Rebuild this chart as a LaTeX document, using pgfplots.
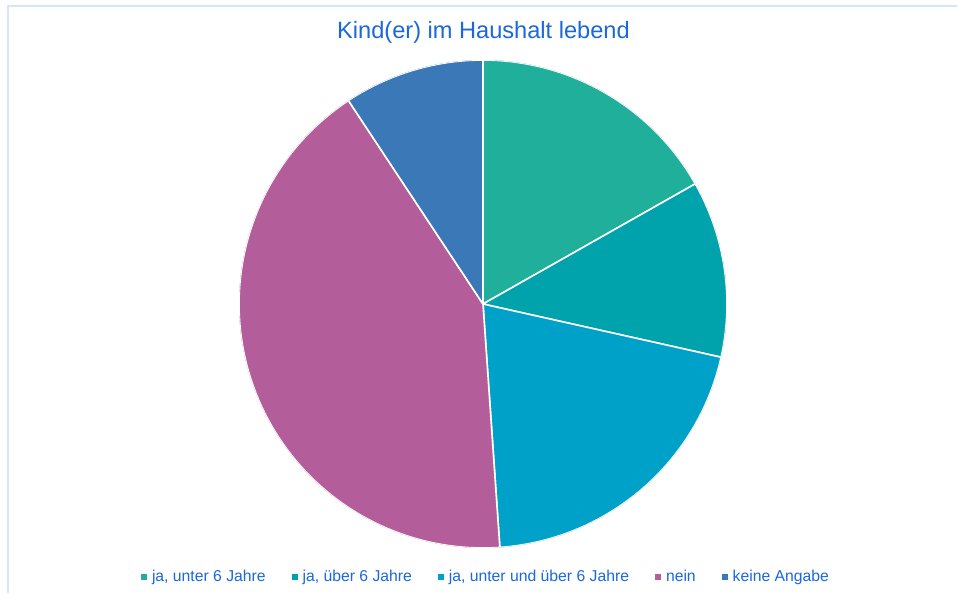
\documentclass[border=0pt]{standalone}
\usepackage{pgfplots}
\pgfplotsset{compat=1.18}
\usepgfplotslibrary{polar}
\usepackage{fontspec}
\setmainfont{Liberation Sans}
\definecolor{cA}{HTML}{1FAF9B}
\definecolor{cB}{HTML}{00A3AC}
\definecolor{cC}{HTML}{00A1C9}
\definecolor{cD}{HTML}{B35E9B}
\definecolor{cE}{HTML}{3A78B7}
\definecolor{tblue}{HTML}{1A68DC}
\definecolor{frame}{HTML}{D6E6FA}
\begin{document}
\begin{tikzpicture}[x=0.75pt,y=0.75pt]
\fill[white] (0,0) rectangle (958,593);
\draw[frame, line width=1.5pt] (8,0) -- (8,587) -- (957,587);
\node[tblue, font=\fontsize{17.7}{21}\selectfont] at (483.5,561) {Kind(er) im Haushalt lebend};
% slice percentages: 16.8, 11.7, 20.4, 41.8, 9.3 (angles = 3.6 * percent, clockwise from top)
\begin{polaraxis}[
  at={(483pt*0.75,289pt*0.75)}, anchor=center,
  scale only axis, width=366pt, height=366pt,
  xmin=0, xmax=360, ymin=0, ymax=1,
  hide axis,
  legend columns=5,
  legend style={draw=none, fill=none, at={(0.5,-0.0)}, anchor=north,
    yshift=-14.5pt, xshift=2.5pt, font=\fontsize{11.8}{14}\selectfont, text=tblue,
    /tikz/every even column/.append style={column sep=17.5pt},
    inner sep=0pt, row sep=0pt},
  legend image code/.code={\fill[#1,draw=none] (0pt,-2.1pt) rectangle (4.6pt,2.5pt);\path (5.6pt,0pt);},
  every axis plot/.append style={draw=white, line width=1.2pt, line join=round},
]
\addplot[fill=cA, domain=90:29.52, samples=60] {1} -- (axis cs:0,0) -- cycle;
\addlegendentry{ja, unter 6 Jahre}
\addplot[fill=cB, domain=29.52:-12.6, samples=60] {1} -- (axis cs:0,0) -- cycle;
\addlegendentry{ja, über 6 Jahre}
\addplot[fill=cC, domain=-12.6:-86.04, samples=60] {1} -- (axis cs:0,0) -- cycle;
\addlegendentry{ja, unter und über 6 Jahre}
\addplot[fill=cD, domain=-86.04:-236.52, samples=90] {1} -- (axis cs:0,0) -- cycle;
\addlegendentry{nein}
\addplot[fill=cE, domain=-236.52:-270, samples=40] {1} -- (axis cs:0,0) -- cycle;
\addlegendentry{keine Angabe}
\end{polaraxis}
\end{tikzpicture}
\end{document}
